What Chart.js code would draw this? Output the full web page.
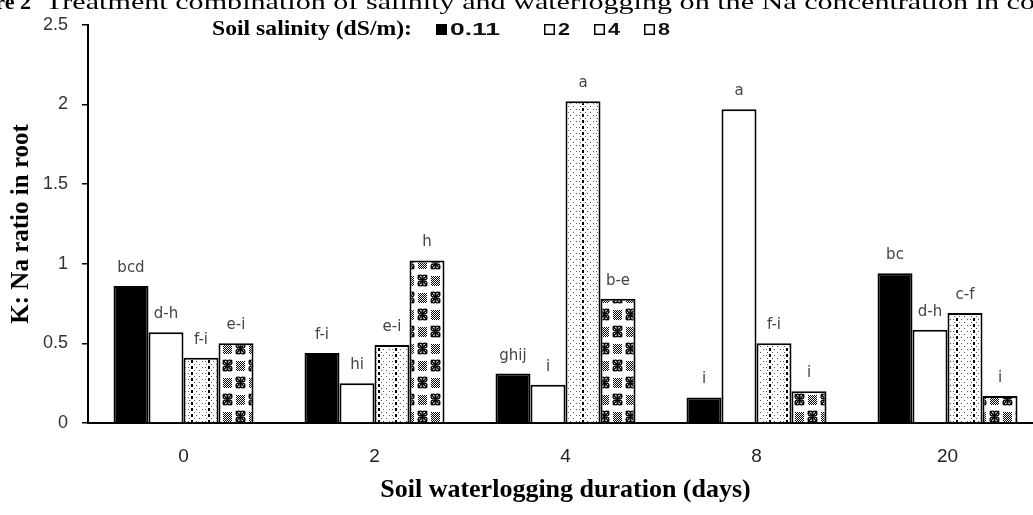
<!DOCTYPE html>
<html><head><meta charset="utf-8">
<script src="https://cdn.jsdelivr.net/npm/chart.js@4"></script>
<style>
html,body{margin:0;padding:0;background:#fff;overflow:hidden;width:1033px;height:515px}
#wrap{width:1033px;height:515px;overflow:hidden;position:relative}
canvas{display:block}
</style></head>
<body><div id="wrap"><canvas id="c" width="1045" height="515"></canvas></div>
<script>
// ---- data ----
const categories = ['0', '2', '4', '8', '20'];
const seriesNames = ['0.11', '2', '4', '8'];
const salinity011 = [0.86, 0.44, 0.31, 0.16, 0.94];
const salinity2   = [0.57, 0.25, 0.24, 1.97, 0.585];
const salinity4   = [0.41, 0.49, 2.02, 0.50, 0.69];
const salinity8   = [0.50, 1.02, 0.78, 0.20, 0.17];
const letters011 = ['bcd', 'f-i', 'ghij', 'i', 'bc'];
const letters2   = ['d-h', 'hi', 'i', 'a', 'd-h'];
const letters4   = ['f-i', 'e-i', 'a', 'f-i', 'c-f'];
const letters8   = ['e-i', 'h', 'b-e', 'i', 'i'];
const yTicks = [0, 0.5, 1, 1.5, 2, 2.5];
const xTitle = 'Soil waterlogging duration (days)';
const yTitle = 'K: Na ratio in root';
const legendTitle = 'Soil salinity (dS/m):';
const captionBold = 'Figure 2';
const captionText = 'Treatment combination of salinity and waterlogging on the Na concentration in co';

// ---- fill patterns ----
function dotPattern() {
  const c = document.createElement('canvas'); c.width = 17; c.height = 6;
  const g = c.getContext('2d');
  g.fillStyle = '#fff'; g.fillRect(0, 0, 17, 6);
  g.fillStyle = '#000';
  g.fillRect(4, 0, 2, 3);
  g.fillStyle = '#555';
  [[9,1],[12,4],[15,1],[7,4],[1,1],[2,4]].forEach(p => g.fillRect(p[0], p[1], 1, 1));
  return g.createPattern(c, 'repeat');
}
function checkerPattern() {
  const w = 13, h = 17;
  const c = document.createElement('canvas'); c.width = 2 * w; c.height = 2 * h;
  const g = c.getContext('2d');
  g.fillStyle = '#fff'; g.fillRect(0, 0, 2 * w, 2 * h);
  function knot(ox, oy) {
    g.strokeStyle = '#000'; g.lineWidth = 1.3;
    [[4.5,5.5],[8.5,5.5],[4.5,11.5],[8.5,11.5]].forEach(p => {
      g.beginPath(); g.arc(ox + p[0], oy + p[1], 2.4, 0, Math.PI * 2); g.stroke();
    });
    g.beginPath(); g.moveTo(ox + 2, oy + 3); g.lineTo(ox + 11, oy + 14);
    g.moveTo(ox + 11, oy + 3); g.lineTo(ox + 2, oy + 14); g.stroke();
  }
  function dots(ox, oy) {
    g.fillStyle = '#000';
    for (let y = 4; y < 14; y++) for (let x = 2; x < 11; x++) if ((x + y) % 2 === 0) g.fillRect(ox + x, oy + y, 1, 1);
  }
  knot(0, 0); knot(w, h); dots(w, 0); dots(0, h);
  return g.createPattern(c, 'repeat');
}

// ---- plugins ----
function stretchText(ctx, text, x, y, targetW) {
  const w = ctx.measureText(text).width;
  ctx.save(); ctx.translate(x, y); ctx.scale(targetW / w, 1);
  ctx.fillText(text, 0, 0); ctx.restore();
}
const letterPlugin = {
  id: 'letters',
  afterDatasetsDraw(chart) {
    const ctx = chart.ctx;
    ctx.save();
    ctx.font = '15px "DejaVu Sans"';
    ctx.fillStyle = '#444'; ctx.textAlign = 'center'; ctx.textBaseline = 'middle';
    chart.data.datasets.forEach((ds, di) => {
      chart.getDatasetMeta(di).data.forEach((el, i) => {
        ctx.fillText(ds.letters[i], el.x, el.y - 18);
      });
    });
    ctx.restore();
  }
};
const legendPlugin = {
  id: 'customLegend',
  afterDraw(chart) {
    const ctx = chart.ctx;
    ctx.save();
    ctx.fillStyle = '#000'; ctx.textBaseline = 'alphabetic'; ctx.textAlign = 'left';
    ctx.font = 'bold 21px "Liberation Serif"';
    stretchText(ctx, legendTitle, 212, 35, 200);
    const boxX = [436, 544, 594, 644];
    const textW = [50, 12, 12, 12];
    ctx.font = 'bold 17px "Liberation Sans"';
    chart.data.datasets.forEach((ds, i) => {
      const x = boxX[i];
      ctx.fillStyle = ds.legendFill;
      ctx.fillRect(x, 24, 11, 11);
      ctx.strokeStyle = '#000'; ctx.lineWidth = 1.5;
      ctx.strokeRect(x + 0.75, 24.75, 9.5, 9.5);
      ctx.fillStyle = '#111';
      stretchText(ctx, ds.label, x + 14, 35, textW[i]);
    });
    // caption (cut off at the top of the image)
    ctx.fillStyle = '#000';
    ctx.font = 'bold 22px "Liberation Serif"';
    ctx.textAlign = 'right';
    ctx.fillText(captionBold, 31, 9);
    ctx.textAlign = 'left';
    ctx.font = '22px "Liberation Serif"';
    stretchText(ctx, captionText, 45, 9, 990);
    ctx.restore();
  }
};

const values = [salinity011, salinity2, salinity4, salinity8];
const letterSets = [letters011, letters2, letters4, letters8];
const fills = ['#000000', '#ffffff', dotPattern(), checkerPattern()];
const legendFills = ['#000000', '#ffffff', '#ffffff', '#ffffff'];

new Chart(document.getElementById('c'), {
  type: 'bar',
  data: {
    labels: categories,
    datasets: seriesNames.map((name, i) => ({
      label: name,
      data: values[i],
      letters: letterSets[i],
      legendFill: legendFills[i],
      backgroundColor: fills[i],
      borderColor: '#000',
      borderWidth: 2,
      categoryPercentage: 0.733,
      barPercentage: 1.0
    }))
  },
  options: {
    responsive: false,
    animation: false,
    devicePixelRatio: 1,
    layout: { padding: { top: 21, right: 2, bottom: 0, left: 0 } },
    plugins: { legend: { display: false }, tooltip: { enabled: false }, title: { display: false } },
    scales: {
      x: {
        grid: { display: false, drawTicks: false },
        border: { display: true, color: '#000', width: 2 },
        ticks: { font: { family: 'Liberation Sans', size: 19 }, color: '#222', padding: 22 },
        title: { display: true, text: xTitle, color: '#000',
                 font: { family: 'Liberation Serif', size: 26, weight: 'bold' }, padding: { top: 0, bottom: 9 } },
        afterFit(s) { s.height = 92; }
      },
      y: {
        min: 0, max: 2.5,
        afterBuildTicks(s) { s.ticks = yTicks.map(v => ({ value: v })); },
        ticks: { font: { family: 'Liberation Sans', size: 18 }, color: '#333', padding: 14,
                 callback: v => String(v) },
        grid: { drawOnChartArea: false, drawTicks: true, tickLength: 6, color: '#000', lineWidth: 1.5 },
        border: { display: true, color: '#000', width: 2 },
        title: { display: true, text: yTitle, color: '#000',
                 font: { family: 'Liberation Serif', size: 25, weight: 'bold' }, padding: { top: 7, bottom: 0 } },
        afterFit(s) { s.width = 88; }
      }
    }
  },
  plugins: [letterPlugin, legendPlugin]
});
</script>
</body></html>
